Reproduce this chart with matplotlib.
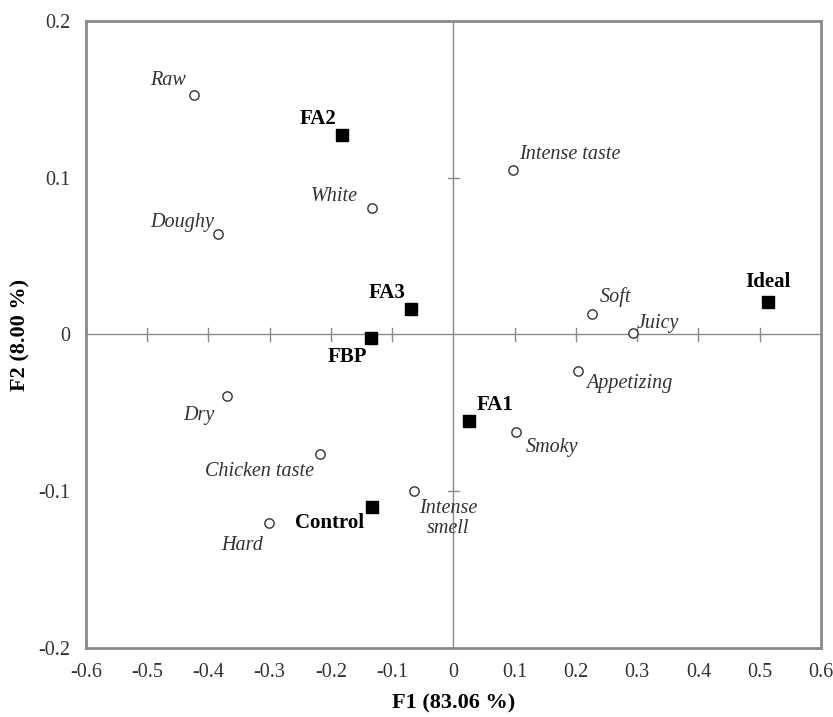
import matplotlib
matplotlib.use('Agg')
import matplotlib.pyplot as plt
import numpy as np

plt.rcParams['font.family'] = ['Liberation Serif', 'DejaVu Serif']

# products (filled squares)
SAMPLES = ['FA2', 'FA3', 'FBP', 'Ideal', 'FA1', 'Control']
SAMPLE_F1 = [-0.182, -0.069, -0.135, 0.513, 0.025, -0.133]
SAMPLE_F2 = [0.127, 0.016, -0.002, 0.021, -0.055, -0.110]

# sensory attributes (open circles)
ATTRS = ['Raw', 'White', 'Doughy', 'Intense taste', 'Soft', 'Juicy', 'Appetizing',
         'Smoky', 'Intense\nsmell', 'Dry', 'Chicken taste', 'Hard']
ATTR_F1 = [-0.424, -0.133, -0.384, 0.097, 0.226, 0.293, 0.203,
           0.102, -0.064, -0.370, -0.218, -0.301]
ATTR_F2 = [0.153, 0.081, 0.064, 0.105, 0.013, 0.001, -0.023,
           -0.062, -0.100, -0.039, -0.076, -0.120]

# label placement: (dx px, dy px, ha, va)
SAMPLE_POS = {
    'FA2': (-6, 6, 'right', 'bottom'),
    'FA3': (-6, 6, 'right', 'bottom'),
    'FBP': (-4, -9, 'right', 'top'),
    'Ideal': (0, 10, 'center', 'bottom'),
    'FA1': (8, 6, 'left', 'bottom'),
    'Control': (-8, -6, 'right', 'top'),
}
ATTR_POS = {
    'Raw': (-8, 5, 'right', 'bottom'),
    'White': (-14, 2, 'right', 'bottom'),
    'Doughy': (-4, 2, 'right', 'bottom'),
    'Intense taste': (6, 6, 'left', 'bottom'),
    'Soft': (8, 7, 'left', 'bottom'),
    'Juicy': (4, 0, 'left', 'bottom'),
    'Appetizing': (8, -3, 'left', 'top'),
    'Smoky': (10, -6, 'left', 'top'),
    'Intense\nsmell': (5, -8, 'left', 'top'),
    'Dry': (-12, -10, 'right', 'top'),
    'Chicken taste': (-6, -8, 'right', 'top'),
    'Hard': (-6, -13, 'right', 'top'),
}

GRAY = '#8a8a8a'

fig = plt.figure(figsize=(8.33, 7.17), dpi=100)
ax = fig.add_axes([0.103, 0.0963, 0.8826, 0.8744])

ax.set_xlim(-0.6, 0.6)
ax.set_ylim(-0.2, 0.2)

# zero lines with small crossing ticks
ax.axhline(0, color=GRAY, lw=1, zorder=1)
ax.axvline(0, color=GRAY, lw=1, zorder=1)
xt = np.arange(-0.5, 0.51, 0.1)
for x in xt:
    if abs(x) > 1e-9:
        ax.plot([x, x], [-0.004, 0.004], color=GRAY, lw=1, zorder=1)
for y in [-0.1, 0.1]:
    ax.plot([-0.009, 0.009], [y, y], color=GRAY, lw=1, zorder=1)

ax.scatter(ATTR_F1, ATTR_F2, s=45, facecolor='white', edgecolor='#333333', lw=1.0, zorder=3)
ax.scatter(SAMPLE_F1, SAMPLE_F2, s=85, marker='s', color='black', zorder=4)

for name, x, y in zip(ATTRS, ATTR_F1, ATTR_F2):
    dx, dy, ha, va = ATTR_POS[name]
    ax.annotate(name, (x, y), xytext=(dx, dy), textcoords='offset pixels',
                ha=ha, va=va, style='italic', fontsize=14.5, color='#333333',
                multialignment='center', linespacing=1.05)
for name, x, y in zip(SAMPLES, SAMPLE_F1, SAMPLE_F2):
    dx, dy, ha, va = SAMPLE_POS[name]
    ax.annotate(name, (x, y), xytext=(dx, dy), textcoords='offset pixels',
                ha=ha, va=va, fontweight='bold', fontsize=15, color='black')

ax.set_xticks(np.round(np.arange(-0.6, 0.61, 0.1), 1))
ax.set_xticklabels(['-0.6', '-0.5', '-0.4', '-0.3', '-0.2', '-0.1', '0',
                    '0.1', '0.2', '0.3', '0.4', '0.5', '0.6'])
ax.set_yticks([-0.2, -0.1, 0, 0.1, 0.2])
ax.set_yticklabels(['-0.2', '-0.1', '0', '0.1', '0.2'])
ax.tick_params(length=0, labelsize=14.5, labelcolor='#333333', pad=11)

for s in ax.spines.values():
    s.set_color(GRAY)
    s.set_linewidth(2)

ax.set_xlabel('F1 (83.06 %)', fontsize=16, fontweight='bold', labelpad=8)
ax.set_ylabel('F2 (8.00 %)', fontsize=16, fontweight='bold', labelpad=6)

fig.savefig('out.png', dpi=100)
plt.close()
